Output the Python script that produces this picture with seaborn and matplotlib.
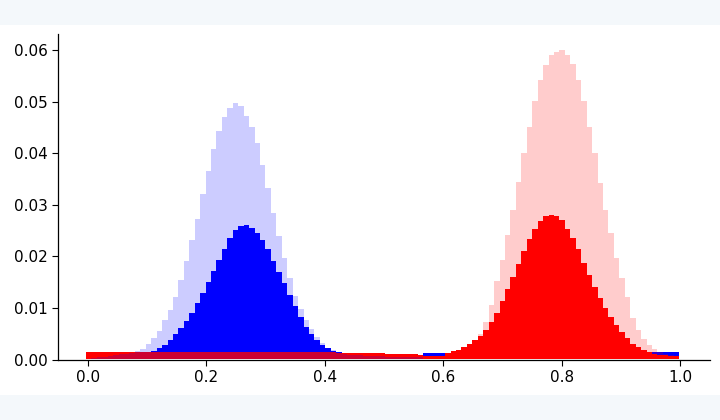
import numpy as np
import pandas as pd
import matplotlib
matplotlib.use("Agg")
import matplotlib.pyplot as plt
import seaborn as sns
from matplotlib.patches import Rectangle

# 109 equal bins spanning roughly [0, 1]; heights, one per bin
n_bins = 109

blue_dark = [
    0.0004, 0.0005, 0.0006, 0.0007, 0.0008, 0.0009, 0.0010, 0.0011, 0.0012, 0.0012,
    0.0013, 0.0014, 0.0017, 0.0022, 0.0029, 0.0038, 0.0049, 0.0061, 0.0075, 0.0091,
    0.0109, 0.0130, 0.0151, 0.0172, 0.0193, 0.0214, 0.0236, 0.0252, 0.0259, 0.0261,
    0.0256, 0.0246, 0.0231, 0.0214, 0.0192, 0.0170, 0.0148, 0.0125, 0.0103, 0.0083,
    0.0064, 0.0050, 0.0038, 0.0029, 0.0022, 0.0017, 0.0014, 0.0009, 0.0009, 0.0009,
    0.0009, 0.0009, 0.0009, 0.0009, 0.0009, 0.0008, 0.0008, 0.0008, 0.0008, 0.0008,
    0.0008, 0.0008, 0.0012, 0.0012, 0.0012, 0.0012, 0.0013, 0.0013, 0.0013, 0.0013,
    0.0013, 0.0013, 0.0013, 0.0013, 0.0013, 0.0013, 0.0013, 0.0013, 0.0013, 0.0013,
    0.0013, 0.0013, 0.0013, 0.0013, 0.0013, 0.0013, 0.0013, 0.0013, 0.0013, 0.0013,
    0.0013, 0.0013, 0.0013, 0.0013, 0.0013, 0.0013, 0.0013, 0.0013, 0.0013, 0.0013,
    0.0013, 0.0013, 0.0015, 0.0015, 0.0015, 0.0015, 0.0015, 0.0015, 0.0015,
]

red_dark = [
    0.0015, 0.0015, 0.0015, 0.0015, 0.0015, 0.0015, 0.0015, 0.0015, 0.0015, 0.0015,
    0.0015, 0.0015, 0.0015, 0.0015, 0.0015, 0.0015, 0.0015, 0.0015, 0.0015, 0.0015,
    0.0015, 0.0015, 0.0015, 0.0015, 0.0015, 0.0015, 0.0015, 0.0015, 0.0015, 0.0015,
    0.0015, 0.0014, 0.0014, 0.0014, 0.0014, 0.0014, 0.0014, 0.0014, 0.0014, 0.0014,
    0.0014, 0.0014, 0.0014, 0.0014, 0.0014, 0.0014, 0.0012, 0.0012, 0.0012, 0.0012,
    0.0012, 0.0012, 0.0012, 0.0012, 0.0012, 0.0010, 0.0010, 0.0010, 0.0010, 0.0010,
    0.0010, 0.0009, 0.0007, 0.0007, 0.0007, 0.0007, 0.0012, 0.0016, 0.0019, 0.0024,
    0.0030, 0.0038, 0.0046, 0.0057, 0.0073, 0.0091, 0.0114, 0.0136, 0.0160, 0.0186,
    0.0211, 0.0234, 0.0253, 0.0268, 0.0279, 0.0281, 0.0279, 0.0270, 0.0254, 0.0235,
    0.0214, 0.0188, 0.0164, 0.0140, 0.0120, 0.0099, 0.0083, 0.0066, 0.0054, 0.0042,
    0.0031, 0.0025, 0.0019, 0.0014, 0.0011, 0.0009, 0.0008, 0.0007, 0.0006,
]

blue_light = [
    0.0001, 0.0002, 0.0004, 0.0005, 0.0007, 0.0008, 0.0010, 0.0011, 0.0013, 0.0016,
    0.0020, 0.0031, 0.0042, 0.0056, 0.0076, 0.0097, 0.0122, 0.0154, 0.0192, 0.0232,
    0.0273, 0.0322, 0.0366, 0.0408, 0.0443, 0.0470, 0.0488, 0.0497, 0.0492, 0.0473,
    0.0452, 0.0420, 0.0378, 0.0333, 0.0285, 0.0240, 0.0197, 0.0159, 0.0124, 0.0098,
    0.0077, 0.0060, 0.0043, 0.0032, 0.0022, 0.0018, 0.0014, 0.0011, 0.0009, 0.0008,
    0.0008, 0.0007, 0.0007, 0.0007, 0.0006, 0.0005, 0.0005, 0.0005, 0.0005, 0.0005,
    0.0005, 0.0005, 0.0, 0.0, 0.0, 0.0, 0.0, 0.0, 0.0, 0.0,
    0.0, 0.0, 0.0, 0.0, 0.0, 0.0, 0.0, 0.0, 0.0, 0.0,
    0.0, 0.0, 0.0, 0.0, 0.0, 0.0, 0.0, 0.0, 0.0, 0.0,
    0.0, 0.0, 0.0, 0.0, 0.0, 0.0, 0.0, 0.0, 0.0, 0.0,
    0.0, 0.0, 0.0, 0.0, 0.0, 0.0, 0.0, 0.0, 0.0,
]

red_light = [
    0.0, 0.0, 0.0, 0.0, 0.0, 0.0, 0.0, 0.0, 0.0, 0.0,
    0.0, 0.0, 0.0, 0.0, 0.0, 0.0, 0.0, 0.0, 0.0, 0.0,
    0.0, 0.0, 0.0, 0.0, 0.0, 0.0, 0.0, 0.0, 0.0, 0.0,
    0.0, 0.0, 0.0, 0.0, 0.0, 0.0, 0.0, 0.0, 0.0, 0.0,
    0.0, 0.0, 0.0, 0.0, 0.0, 0.0, 0.0, 0.0, 0.0, 0.0,
    0.0, 0.0, 0.0, 0.0, 0.0, 0.0, 0.0, 0.0, 0.0, 0.0,
    0.0, 0.0, 0.0, 0.0, 0.0, 0.0003, 0.0004, 0.0006, 0.0010, 0.0015,
    0.0023, 0.0034, 0.0050, 0.0072, 0.0105, 0.0152, 0.0193, 0.0241, 0.0290, 0.0345,
    0.0400, 0.0451, 0.0501, 0.0542, 0.0572, 0.0590, 0.0597, 0.0601, 0.0590, 0.0573,
    0.0542, 0.0501, 0.0452, 0.0400, 0.0343, 0.0290, 0.0245, 0.0197, 0.0158, 0.0122,
    0.0080, 0.0058, 0.0040, 0.0028, 0.0020, 0.0015, 0.0011, 0.0008, 0.0005,
]

bin_lo, bin_hi = -0.003, 0.998
edges = np.linspace(bin_lo, bin_hi, n_bins + 1)
centers = (edges[:-1] + edges[1:]) / 2

sns.set_style("ticks")

fig = plt.figure(figsize=(7.2, 4.2), dpi=100, facecolor="#f4f8fb")
# white page area between the light strips at top and bottom
fig.patches.append(Rectangle((0, 25 / 420), 1, 370 / 420, transform=fig.transFigure,
                             facecolor="white", edgecolor="none", zorder=-10))
ax = fig.add_axes([58 / 720, 1 - 359.5 / 420, 652 / 720, 325.2 / 420])
ax.set_facecolor("white")

# dark series opaque, light series with alpha on top
layers = [
    (blue_dark, "blue", 1.0),
    (red_dark, "red", 1.0),
    (blue_light, "blue", 0.2),
    (red_light, "red", 0.2),
]
for vals, col, a in layers:
    df = pd.DataFrame({"x": centers, "w": vals})
    sns.histplot(data=df, x="x", weights="w", bins=n_bins, binrange=(bin_lo, bin_hi),
                 element="step", fill=True, color=col, alpha=a, linewidth=0, ax=ax)

ax.set_xlim(-0.05, 1.05)
ax.set_xticks([0.0, 0.2, 0.4, 0.6, 0.8, 1.0])
ax.set_yticks([0.00, 0.01, 0.02, 0.03, 0.04, 0.05, 0.06])
ax.set_xticklabels(["0.0", "0.2", "0.4", "0.6", "0.8", "1.0"])
ax.set_yticklabels(["0.00", "0.01", "0.02", "0.03", "0.04", "0.05", "0.06"])
ax.tick_params(labelsize=11, length=4, width=0.8, colors="black")
ax.set_xlabel("")
ax.set_ylabel("")
sns.despine(ax=ax)
for s in ["left", "bottom"]:
    ax.spines[s].set_color("black")
    ax.spines[s].set_linewidth(0.9)

fig.savefig("out.png", dpi=100, facecolor=fig.get_facecolor())
